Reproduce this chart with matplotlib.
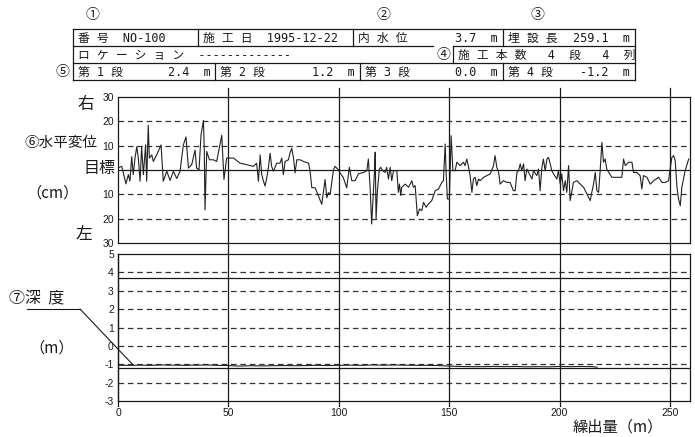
import matplotlib
matplotlib.use("Agg")
import matplotlib.pyplot as plt

plt.rcParams['font.family'] = ['DejaVu Sans', 'Noto Sans CJK JP']

# header values
pipe_no = "NO-100"
work_date = "1995-12-22"
inner_water = 3.7
buried_len = 259.1
rows_cols = (4, 4)
stage_depths = [2.4, 1.2, 0.0, -1.2]

# horizontal displacement (cm) along the pipe (m)
horiz_dist = [
    0.6, 1.7, 3.6, 4.7, 5.4, 6.2, 6.9, 7.7, 8.5, 9.2, 10.0, 10.7, 11.5, 12.5, 13.0,
    13.7, 14.2, 15.3, 16.0, 17.5, 19.5, 20.5, 22.1, 23.6, 25.1, 26.6, 28.1, 29.6,
    30.8, 31.9, 33.4, 34.9, 35.6, 36.7, 37.6, 38.7, 39.1, 39.4, 40.2, 41.4, 43.2,
    44.7, 47.0, 48.0, 49.2, 50.5, 52.3, 55.3, 58.3, 61.3, 62.8, 63.6, 64.4, 65.1,
    65.9, 66.6, 67.4, 68.1, 68.9, 69.6, 70.4, 71.9, 73.4, 74.2, 74.9, 75.7, 77.2,
    77.9, 78.7, 79.5, 80.2, 81.0, 82.5, 84.0, 86.3, 87.0, 87.8, 89.3, 90.8, 92.3,
    93.8, 94.6, 95.3, 96.1, 97.6, 98.3, 99.8, 100.6, 102.1, 103.6, 104.8, 105.9,
    107.4, 108.9, 111.2, 112.7, 113.4, 114.2, 114.9, 115.7, 116.2, 116.5, 116.9,
    117.5, 118.4, 119.0, 119.9, 121.0, 121.7, 122.5, 123.3, 124.0, 124.8, 126.3,
    127.0, 127.5, 128.1, 128.5, 130.1, 131.6, 133.1, 133.8, 134.6, 135.6, 136.6,
    137.6, 138.4, 139.6, 140.6, 142.1, 143.7, 145.2, 146.7, 147.4, 148.2, 148.6,
    149.2, 150.1, 150.9, 151.7, 152.7, 153.5, 155.0, 156.5, 157.2, 158.0, 158.8,
    159.5, 160.3, 161.0, 161.8, 162.5, 163.3, 164.0, 165.6, 167.1, 168.6, 170.1,
    170.8, 171.6, 172.4, 173.1, 174.6, 176.1, 177.6, 179.1, 179.9, 180.7, 181.4,
    182.2, 182.9, 183.7, 184.4, 185.2, 186.7, 187.5, 188.2, 189.7, 190.5, 191.2,
    192.0, 192.7, 193.5, 194.3, 195.0, 195.8, 196.5, 197.3, 198.8, 199.5, 200.3,
    201.0, 201.8, 202.6, 203.3, 204.1, 204.8, 206.3, 207.9, 209.4, 210.9, 212.4,
    213.9, 214.6, 215.4, 216.2, 216.9, 217.7, 218.4, 219.2, 219.9, 220.7, 221.4,
    223.7, 228.2, 229.0, 229.8, 231.3, 232.8, 233.5, 235.0, 236.5, 237.3, 238.0,
    239.6, 241.1, 242.6, 244.9, 246.4, 247.9, 249.4, 250.2, 250.9, 251.7, 252.4,
    253.2, 253.9, 254.7, 255.4, 256.9, 258.5,
]
horiz_cm = [
    1.1, 1.5, -5.7, -1.9, -4.6, 5.5, -1.9, 4.9, 9.6, 4.9, -4.6, 9.6, -1.9, 10.3, -4.6,
    18.4, 4.9, 6.2, 3.5, 6.2, 10.3, -4.6, -0.5, -4.3, -0.5, -3.5, -0.5, 10.3,
    13.6, 0.8, 2.2, 8.2, 0.8, 0.1, 14.3, 20.4, 7.6, -16.4, 7.6, 4.2, 4.2,
    3.5, 14.3, -3.9, 4.9, 4.9, 4.9, 2.8, 2.2, 1.5, 2.8, -4.6, 6.2, -1.9,
    -4.6, -6.6, -3.2, 0.8, 6.9, 1.5, -0.5, 2.8, 2.8, 4.9, -1.9, 3.5, 4.2,
    6.9, 8.9, 4.9, -1.2, 4.2, 4.2, 3.5, 2.8, -0.5, -7.3, -7.3, -10.7, -14.1,
    -3.9, -11.4, -9.3, -10.0, 0.1, 1.5, 0.1, -1.2, -3.2, -7.3, 1.1, -4.4,
    -4.4, -1.6, -1.0, -0.3, 4.5, -7.1, -22.2, -8.5, -0.3, 7.3, -20.1,
    -8.5, 0.4, 1.1, -0.3, -1.0, 1.1, -3.7, 1.1, -4.4, -0.3, -0.3,
    -9.2, -5.8, -10.5, -7.1, -5.8, -7.1, -4.4, -7.1, -6.4, -18.8, -16.0,
    -16.7, -13.3, -15.3, -14.0, -12.6, -8.5, -7.8, -5.1, -4.4, 10.7, -0.3,
    -11.9, -11.9, 14.1, -0.3, -0.3, 3.2, 1.8, 3.2, 1.8, 4.5, 1.1,
    -2.3, -9.2, -3.7, -3.0, -6.4, -3.7, -4.4, -3.0, -2.3, -1.6, 1.8,
    5.9, 1.1, -1.0, -5.8, -4.4, -5.1, -5.1, -8.5, -8.5, -1.0, -0.3,
    2.5, -0.3, 2.5, -4.4, 0.4, -2.3, -3.7, -0.3, -2.3, 0.4, -8.5,
    1.1, 4.5, -0.3, 4.5, 5.2, 2.5, -0.3, -1.6, -3.7, -0.3, -5.8,
    -1.6, -8.5, -4.4, -9.2, 1.8, -12.6, -5.1, -4.4, -5.8, -7.1, -9.9,
    -12.6, -9.2, -5.8, -1.0, -8.5, -9.2, -0.3, 11.4, 3.2, 4.5, 0.4,
    -3.0, -3.0, 4.5, 1.8, 3.2, 3.2, -1.0, -1.0, -2.3, -7.8, -2.3,
    -3.0, -5.8, -4.4, -3.0, -5.1, -5.1, -4.4, 1.1, 5.2, 5.9, 3.8,
    -7.1, -11.9, -14.7, -7.1, -0.3, 4.5,
]

# measured depth (m)
depth_dist = [0, 5, 10, 15, 20, 25, 30, 35, 40, 45, 50, 55, 60, 65, 70, 75, 80,
              85, 90, 95, 100, 105, 110, 115, 120, 125, 130, 135, 140, 145, 150,
              155, 160, 165, 170, 175, 180, 185, 190, 195, 200, 205, 210, 215, 217]
depth_m = [-1.06, -1.06, -1.05, -1.06, -1.04, -1.05, -1.06, -1.05, -1.04, -1.06,
           -1.07, -1.10, -1.08, -1.09, -1.08, -1.07, -1.08, -1.07, -1.06, -1.07,
           -1.06, -1.05, -1.06, -1.04, -1.05, -1.04, -1.05, -1.06, -1.06, -1.07,
           -1.10, -1.12, -1.13, -1.13, -1.12, -1.13, -1.12, -1.14, -1.13, -1.14,
           -1.12, -1.13, -1.12, -1.13, -1.16]

x_ticks = [0, 50, 100, 150, 200, 250]
h_ticks = [-30, -20, -10, 0, 10, 20, 30]
h_labels = ['30', '20', '10', '', '10', '20', '30']
d_ticks = [-3, -2, -1, 0, 1, 2, 3, 4, 5]

W, H = 695, 437
fig = plt.figure(figsize=(W / 100, H / 100), dpi=100)
fig.patch.set_facecolor('white')

ink = '#1a1a1a'
dash = (0, (4.5, 3))
tick_font = dict(family=['Liberation Sans', 'DejaVu Sans'], size=7.5)


def px_axes(left, top, right, bottom):
    return fig.add_axes([left / W, 1 - bottom / H, (right - left) / W, (bottom - top) / H])


ax1 = px_axes(118, 97, 690, 243)
ax2 = px_axes(118, 254, 690, 401)

for ax in (ax1, ax2):
    ax.set_xlim(0, buried_len)
    ax.set_xticks(x_ticks)
    ax.tick_params(length=0, colors=ink)
    for s in ax.spines.values():
        s.set_color(ink)
        s.set_linewidth(0.9)

# horizontal displacement panel
ax1.set_ylim(-30, 30)
ax1.set_yticks(h_ticks)
ax1.set_yticklabels(h_labels, **tick_font)
ax1.tick_params(axis='y', pad=3)
ax1.set_xticklabels([])
for v in (-20, -10, 10, 20):
    ax1.axhline(v, color='#333', lw=0.9, ls=dash)
ax1.axhline(0, color=ink, lw=0.9)
ax1.plot(horiz_dist, horiz_cm, color='#222', lw=0.8)
for x in x_ticks[1:]:
    ax1.axvline(x, ymin=0, ymax=1 + 9 / 146, color=ink, lw=0.9, clip_on=False)

# depth panel
ax2.set_ylim(-3, 5)
ax2.set_yticks(d_ticks)
ax2.set_yticklabels([str(v) for v in d_ticks], **tick_font)
ax2.set_xticklabels([str(v) for v in x_ticks], **tick_font)
ax2.tick_params(axis='y', pad=3)
ax2.tick_params(axis='x', pad=5)
for v in (4, 3, 2, 1, 0, -1, -2):
    ax2.axhline(v, color='#333', lw=0.9, ls=dash)
ax2.axhline(inner_water, color=ink, lw=0.9)
ax2.axhline(stage_depths[3], color=ink, lw=0.9)
ax2.plot(depth_dist, depth_m, color='#222', lw=0.8)
ax2.axvline(0, ymin=-5 / 147, ymax=1, color=ink, lw=0.9, clip_on=False)
for x in x_ticks[1:]:
    ax2.axvline(x, ymin=-5 / 147, ymax=1 + 11 / 147, color=ink, lw=0.9, clip_on=False)

# overlay in pixel units for the header table and side labels
ov = fig.add_axes([0, 0, 1, 1])
ov.set_xlim(0, W)
ov.set_ylim(H, 0)
ov.axis('off')

line_kw = dict(color=ink, lw=0.9)
for y in (29, 63, 80):
    ov.plot([73, 635], [y, y], **line_kw)
ov.plot([73, 433], [46, 46], **line_kw)
ov.plot([453, 635], [46, 46], **line_kw)
ov.plot([73, 73], [29, 80], **line_kw)
ov.plot([635, 635], [29, 80], **line_kw)
for x in (198, 353, 503):
    ov.plot([x, x], [29, 46], **line_kw)
ov.plot([453, 453], [46, 63], **line_kw)
for x in (215, 360, 503):
    ov.plot([x, x], [63, 80], **line_kw)

hdr = dict(family=['DejaVu Sans Mono', 'Noto Sans CJK JP'], size=8.5, color=ink,
           va='center', ha='left')
ov.text(78, 38, f"番 号  {pipe_no}", **hdr)
ov.text(203, 38, f"施 工 日  {work_date}", **hdr)
ov.text(358, 38, "内 水 位", **hdr)
ov.text(498, 38, f"{inner_water:.1f}  m", **{**hdr, 'ha': 'right'})
ov.text(508, 38, "埋 設 長", **hdr)
ov.text(630, 38, f"{buried_len:.1f}  m", **{**hdr, 'ha': 'right'})
ov.text(78, 55, "ロ ケ ー シ ョ ン  -------------", **hdr)
ov.text(458, 55, f"施 工 本 数   {rows_cols[0]}  段   {rows_cols[1]}  列", **hdr)
for i, (x0, x1) in enumerate([(78, 211), (220, 355), (365, 498), (508, 630)]):
    ov.text(x0, 72, f"第 {i + 1} 段", **hdr)
    ov.text(x1, 72, f"{stage_depths[i]:.1f}  m", **{**hdr, 'ha': 'right'})

circ = dict(family=['Noto Sans CJK JP'], size=10, color=ink, ha='center', va='center')
ov.text(92, 15, "①", **circ)
ov.text(383, 15, "②", **circ)
ov.text(537, 15, "③", **circ)
ov.text(443, 55, "④", **circ)
ov.text(62, 72, "⑤", **circ)

lab = dict(family=['Noto Sans CJK JP'], color=ink, va='center')
ov.text(86, 104, "右", ha='center', size=12, **lab)
ov.text(98, 143, "⑥水平変位", ha='right', size=10.5, **lab)
ov.text(115, 169, "目標", ha='right', size=11.5, **lab)
ov.text(53, 193, "（cm）", ha='center', size=11, **lab)
ov.text(84, 235, "左", ha='center', size=12, **lab)
ov.text(9, 299, "⑦深  度", ha='left', size=11.5, **lab)
ov.text(52, 348, "（m）", ha='center', size=11, **lab)
ov.text(618, 427, "繰出量（m）", ha='center', size=11, **lab)

# leader from the depth label to the depth line
ov.plot([27, 80], [309, 309], color=ink, lw=0.8)
ax2.annotate('', xy=(7, depth_m[1]), xycoords='data', xytext=(80, 309),
             textcoords=ov.transData,
             arrowprops=dict(arrowstyle='-', color=ink, lw=0.8, shrinkA=0, shrinkB=0))

fig.savefig('out.png', dpi=100, facecolor='white')
